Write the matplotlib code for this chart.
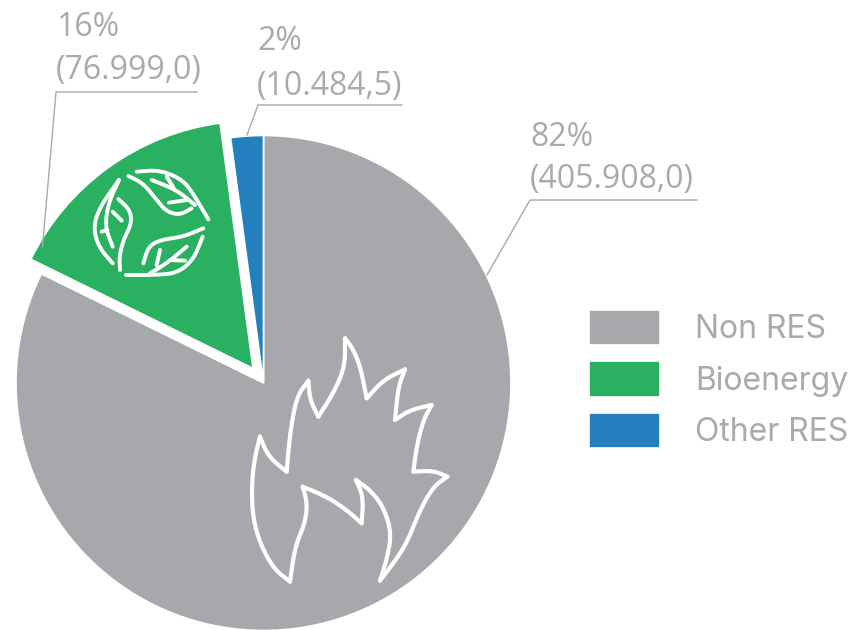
import matplotlib
matplotlib.use("Agg")
import matplotlib.pyplot as plt
import numpy as np

categories = ["Non RES", "Bioenergy", "Other RES"]
values = [405908.0, 76999.0, 10484.5]
percent_labels = ["82%", "16%", "2%"]
value_labels = ["(405.908,0)", "(76.999,0)", "(10.484,5)"]
colors = ["#A7A8AB", "#29B060", "#2480BD"]
explode_px = [0, 18, 0]

GREY = "#A9AAAD"
W, H = 854, 630
plt.rcParams["font.family"] = ["Open Sans", "DejaVu Sans"]

fig = plt.figure(figsize=(W / 100, H / 100), dpi=100)
ax = fig.add_axes([0, 0, 1, 1])
Y = lambda y: H - y

wedges, _ = ax.pie(values, colors=colors, startangle=90, counterclock=False,
                   explode=explode_px, center=(263.5, Y(383)), radius=247.5, frame=True,
                   wedgeprops=dict(edgecolor="white", linewidth=1.2))
ax.set_xlim(0, W)
ax.set_ylim(0, H)
ax.set_aspect("equal")
ax.axis("off")

for xs, ys in [([487, 530, 697], [275, 200, 200]),
               ([42.5, 56, 197], [247, 92, 92]),
               ([247, 258, 402], [135, 105, 105])]:
    ax.plot(xs, [Y(v) for v in ys], color=GREY, lw=1.0, solid_joinstyle="round", zorder=1)

FS = 23
for pct, val, x, y1, y2 in zip(percent_labels, value_labels, [530, 56, 257], [138, 28, 41], [180, 71, 86]):
    ax.text(x, Y(y1), pct, fontsize=FS, color=GREY, va="center", ha="left")
    ax.text(x, Y(y2), val, fontsize=FS, color=GREY, va="center", ha="left")

ax.legend(wedges, categories, loc="upper left", bbox_to_anchor=(589 / W, Y(310) / H),
          frameon=False, labelcolor=GREY, handlelength=2.22, prop={"family": "Inter", "size": 23},
          handleheight=1.32, labelspacing=0.5, handletextpad=1.1, borderpad=0, borderaxespad=0)

def chaikin(pts, n=3):
    pts = np.asarray(pts, float)
    for _ in range(n):
        a, b = pts[:-1], pts[1:]
        q = 0.75 * a + 0.25 * b
        r = 0.25 * a + 0.75 * b
        mid = np.empty((2 * len(a), 2))
        mid[0::2], mid[1::2] = q, r
        pts = np.vstack([pts[0], mid, pts[-1]])
    return pts

def icon(points, ox, oy, lw):
    p = chaikin(points)
    ax.plot(ox + p[:, 0] / 3, H - (oy + p[:, 1] / 3),
            color="white", lw=lw, solid_capstyle="round", solid_joinstyle="round", zorder=5)

flame_parts = [
    [(345,55),(365,80),(390,135),(410,235)],
    [(410,235),(460,180),(525,148)],
    [(525,148),(505,200),(495,300)],
    [(495,300),(540,270),(605,255)],
    [(605,255),(580,300),(560,380),(550,455)],
    [(550,455),(610,452),(652,470)],
    [(652,470),(610,500),(570,570),(530,670),(490,730),(450,782)],
    [(450,782),(470,720),(485,640),(460,560),(420,510),(378,480)],
    [(378,480),(400,530),(395,610)],
    [(395,610),(350,570),(290,530),(218,500)],
    [(218,500),(232,550),(225,610),(195,680),(180,785)],
    [(180,785),(130,745),(90,670),(68,590),(65,490),(75,410),(90,350)],
    [(90,350),(115,410),(170,455)],
    [(170,455),(180,340),(200,230),(235,182)],
    [(235,182),(240,240),(265,290)],
    [(265,290),(310,220),(345,140),(345,55)],
]
for part in flame_parts:
    icon(part, 230, 320, 3.0)

leaves = [
    [(297,240),(240,320),(220,380),(235,440),(278,490)],
    [(295,297),(330,330),(335,370),(310,420),(298,470),(300,510)],
    [(297,240),(265,310),(255,380),(278,440)],
    [(278,335),(305,362)],
    [(245,395),(262,390)],
    [(325,228),(370,250),(410,300),(440,335),(480,345),(515,325)],
    [(350,215),(420,210),(490,240),(525,290),(565,358)],
    [(395,240),(470,270),(525,315)],
    [(440,230),(460,262)],
    [(447,308),(500,300)],
    [(550,385),(490,410),(420,420),(385,440),(370,490)],
    [(318,525),(400,525),(470,520),(520,480),(548,410)],
    [(390,520),(440,490),(500,440)],
    [(420,450),(410,495)],
    [(450,480),(495,482)],
]
for leaf in leaves:
    icon(leaf, 20, 100, 2.8)

fig.savefig("out.png", dpi=100, facecolor="white")
